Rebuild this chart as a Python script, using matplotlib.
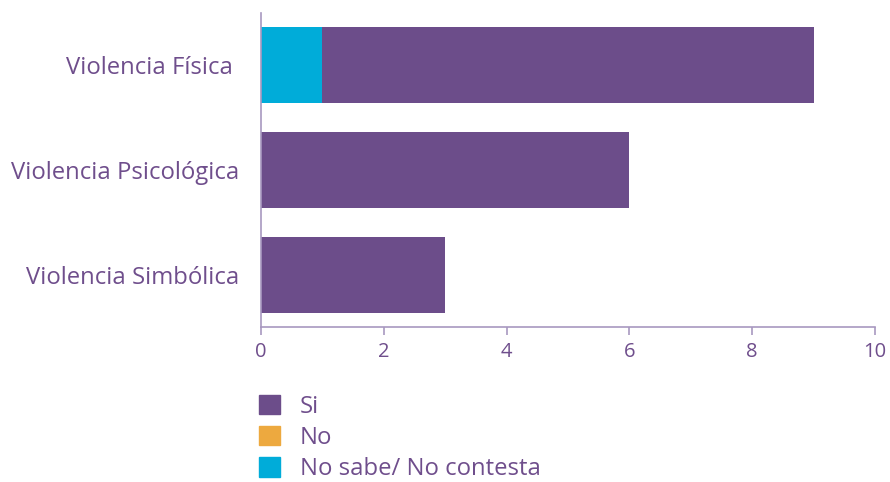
import matplotlib
matplotlib.use('Agg')
import matplotlib.pyplot as plt
from matplotlib.patches import Patch

categories = ['Violencia Física ', 'Violencia Psicológica', 'Violencia Simbólica']
no_sabe = [1, 0, 0]
no = [0, 0, 0]
si = [8, 6, 3]
xticks = [0, 2, 4, 6, 8, 10]

PURPLE = '#6c4d8a'
ORANGE = '#eda93f'
CYAN = '#00acd9'
TEXT = '#6f4e8c'
AXIS = '#a898c0'

plt.rcParams['font.family'] = ['Open Sans', 'DejaVu Sans']

fig = plt.figure(figsize=(8.9, 4.82), dpi=100)
ax = fig.add_axes([261 / 890, 1 - 327 / 482, (875 - 261) / 890, (327 - 13) / 482])

y = range(len(categories))
h = 0.724
ax.barh(y, no_sabe, height=h, color=CYAN)
left = no_sabe
ax.barh(y, no, height=h, left=left, color=ORANGE)
left = [a + b for a, b in zip(no_sabe, no)]
ax.barh(y, si, height=h, left=left, color=PURPLE)

ax.set_xlim(0, 10)
ax.set_ylim(2.5, -0.5)
ax.set_xticks(xticks)
ax.set_yticks(list(y))
ax.set_yticklabels(categories)

for s in ['top', 'right']:
    ax.spines[s].set_visible(False)
for s in ['left', 'bottom']:
    ax.spines[s].set_color(AXIS)
    ax.spines[s].set_linewidth(1.2)

ax.tick_params(axis='x', colors=AXIS, labelcolor=TEXT, labelsize=14.5, length=6, width=1.2, pad=5)
ax.tick_params(axis='y', length=0, labelcolor=TEXT, labelsize=17.2, pad=16)

handles = [Patch(color=PURPLE, label='Si'),
           Patch(color=ORANGE, label='No'),
           Patch(color=CYAN, label='No sabe/ No contesta')]
leg = fig.legend(handles=handles, loc='upper left', bbox_to_anchor=(249 / 890, 1 - 385 / 482),
                 frameon=False, fontsize=17.2, handlelength=0.88, handleheight=0.88,
                 handletextpad=0.85, labelspacing=0.31, borderaxespad=0)
for t in leg.get_texts():
    t.set_color(TEXT)

fig.savefig('out.png', dpi=100)
